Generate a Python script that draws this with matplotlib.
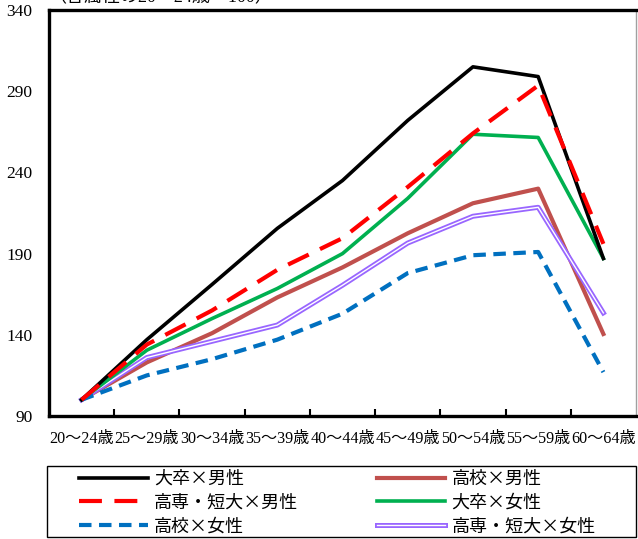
import matplotlib.pyplot as plt
import matplotlib.patheffects as pe
from matplotlib.patches import Rectangle
import numpy as np

plt.rcParams['font.family'] = ['Noto Sans CJK JP', 'DejaVu Sans']

ages = ["20～24歳", "25～29歳", "30～34歳", "35～39歳", "40～44歳",
        "45～49歳", "50～54歳", "55～59歳", "60～64歳"]

univ_male = [100, 137, 171, 205.5, 235, 272, 305, 299, 187]
college_male = [100, 134, 155, 180, 199.5, 231, 264, 293.5, 196]
high_female = [100, 115, 125, 137, 153, 178, 189, 191, 117]
high_male = [100, 123, 141, 163, 181.5, 202.5, 221, 230, 140.5]
univ_female = [100, 130.5, 150, 168.5, 190, 224, 263.5, 261.5, 187]
college_female = [100, 126, 136, 146, 170.5, 196.5, 213, 218.5, 153.5]

x = np.arange(len(ages))

fig = plt.figure(figsize=(6.38, 5.39), dpi=100)
ax = fig.add_axes([49 / 638, 1 - 416 / 539, 587 / 638, 406 / 539])

l_hm, = ax.plot(x, high_male, color="#c0504d", lw=3, label="高校×男性")
l_cf, = ax.plot(x, college_female, color="white", lw=1.0, label="高専・短大×女性",
                path_effects=[pe.Stroke(linewidth=3.6, foreground="#9966ff"), pe.Normal()])
l_uf, = ax.plot(x, univ_female, color="#00b050", lw=2.6, label="大卒×女性")
l_hf, = ax.plot(x, high_female, color="#0070c0", lw=3, dashes=(3, 1.8), label="高校×女性")
l_um, = ax.plot(x, univ_male, color="black", lw=2.6, label="大卒×男性")
l_cm, = ax.plot(x, college_male, color="#ff0000", lw=3, dashes=(5.5, 3), label="高専・短大×男性")

ax.set_xlim(-0.5, 8.5)
ax.set_ylim(90, 340)
ax.set_yticks(np.arange(90, 341, 50))
ax.set_xticks(x)
ax.set_xticklabels(ages)
ax.set_xticks(x[:-1] + 0.5, minor=True)
ax.tick_params(axis="x", which="major", length=0, pad=11, labelsize=11.6)
ax.tick_params(axis="x", which="minor", direction="in", length=5, width=1.5)
ax.tick_params(axis="y", length=0, pad=12, labelsize=12.5)
for lab in ax.get_xticklabels() + ax.get_yticklabels():
    lab.set_family(["Liberation Serif", "Noto Sans CJK JP"])

for side in ["left", "top", "bottom"]:
    ax.spines[side].set_linewidth(2.4)
    ax.spines[side].set_color("black")
ax.spines["right"].set_linewidth(1)
ax.spines["right"].set_color("#a0a0a0")

fig.text(48 / 638, 1.004, "（各属性の20～24歳＝100）", fontsize=13, va="center",
         family=["Liberation Serif", "Noto Sans CJK JP"])

handles = [l_um, l_cm, l_hf, l_hm, l_uf, l_cf]
fig.legend(handles, [h.get_label() for h in handles], ncol=2, frameon=False,
           loc="upper left", bbox_to_anchor=(79 / 638, 1 - 470 / 539),
           borderpad=0, borderaxespad=0, fontsize=13, handlelength=3.8,
           handletextpad=0.35, columnspacing=4.35, labelspacing=0.31)
fig.patches.append(Rectangle((47 / 638, 2 / 539), 589 / 638, 71 / 539,
                             transform=fig.transFigure, fill=False,
                             edgecolor="black", lw=1))

fig.savefig("out.png", dpi=100)
